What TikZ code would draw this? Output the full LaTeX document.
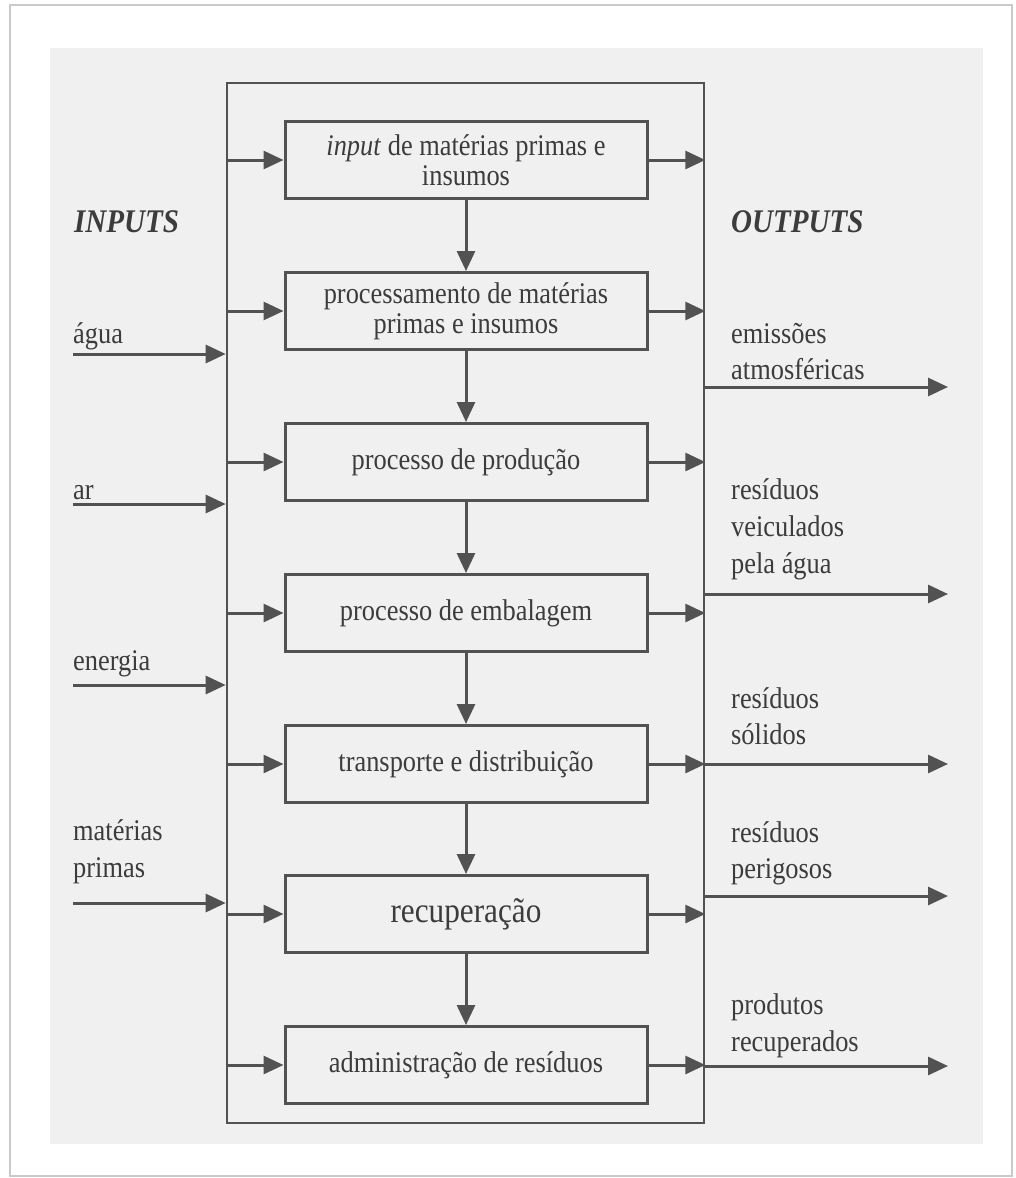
\documentclass[tikz,border=0pt]{standalone}
\usepackage{fontspec}
\setmainfont{Liberation Serif}[FakeStretch=0.88]
\usetikzlibrary{arrows.meta}
\definecolor{ink}{HTML}{3C3C3C}
\definecolor{linec}{HTML}{525252}
\definecolor{paper}{HTML}{F0F0F0}
\definecolor{framec}{HTML}{CACACA}
\begin{document}
\begin{tikzpicture}[x=1pt,y=-1pt,
  stagebox/.style={draw=linec, line width=3pt, minimum width=362pt, minimum height=77pt,
    inner sep=0pt, align=center, text=ink, font=\fontsize{30}{30}\selectfont},
  sysbox/.style={draw=linec, line width=2.6pt, minimum width=477pt, minimum height=1040pt, inner sep=0pt},
  flow/.style={draw=linec, line width=3pt, -{Triangle[length=20pt,width=18pt]}},
  lbl/.style={anchor=base west, text=ink, font=\fontsize{30}{36}\selectfont, inner sep=0pt},
  head/.style={anchor=base west, text=ink, font=\fontsize{33}{36}\selectfont\bfseries\itshape, inner sep=0pt},
]
\useasboundingbox (0,0) rectangle (1015,1178);
\fill[white] (0,0) rectangle (1015,1178);
\draw[framec, line width=2pt] (10,5) rectangle (1012,1176);
\fill[paper] (50,48) rectangle (983,1144);

% system frame
\node[sysbox] (sys) at (465.5,603) {};

% stages
\node[stagebox] (b1) at (466,160) {\textit{input} de matérias primas e\\insumos};
\node[stagebox] (b2) at (466,311) {processamento de matérias\\primas e insumos};
\node[stagebox] (b3) at (466,462) {processo de produção};
\node[stagebox] (b4) at (466,613) {processo de embalagem};
\node[stagebox] (b5) at (466,764) {transporte e distribuição};
\node[stagebox, font=\fontsize{35.5}{36}\selectfont] (b6) at (466,914) {recuperação};
\node[stagebox] (b7) at (466,1065) {administração de resíduos};

% vertical flow
\foreach \a/\b in {b1/b2,b2/b3,b3/b4,b4/b5,b5/b6,b6/b7}
  \draw[flow] (\a.south) -- (\b.north);

% small in/out arrows of each stage
\foreach \s in {b1,b2,b3,b4,b5,b6,b7}{
  \draw[flow] (sys.west |- \s.west) -- (\s.west);
  \draw[flow] (\s.east) -- (sys.east |- \s.east);
}

% headings
\node[head] (hin) at (74,232) {INPUTS};
\node[head] (hout) at (731,232) {OUTPUTS};

% inputs
\coordinate (iagua) at (73,354);
\coordinate (iar) at (73,504);
\coordinate (ienergia) at (73,685);
\coordinate (imat) at (73,903);
\foreach \c in {iagua,iar,ienergia,imat}
  \draw[flow] (\c) -- (\c -| sys.west);
\node[lbl] (lagua) at (73,343) {água};
\node[lbl] (lar) at (73,499) {ar};
\node[lbl] (lenergia) at (73,670) {energia};
\node[lbl] (lmat1) at (73,840) {matérias};
\node[lbl] (lmat2) at (73,877) {primas};

% outputs
\coordinate (oemis) at (948,387);
\coordinate (oagua) at (948,594);
\coordinate (osol) at (948,764);
\coordinate (operig) at (948,896);
\coordinate (oprod) at (948,1066);
\foreach \c in {oemis,oagua,osol,operig,oprod}
  \draw[flow] (\c -| sys.east) -- (\c);
\node[lbl] (r1a) at (731,343) {emissões};
\node[lbl] (r1b) at (731,379) {atmosféricas};
\node[lbl] (r2a) at (731,499) {resíduos};
\node[lbl] (r2b) at (731,536) {veiculados};
\node[lbl] (r2c) at (731,573) {pela água};
\node[lbl] (r3a) at (731,708) {resíduos};
\node[lbl] (r3b) at (731,744) {sólidos};
\node[lbl] (r4a) at (731,842) {resíduos};
\node[lbl] (r4b) at (731,878) {perigosos};
\node[lbl] (r5a) at (731,1014) {produtos};
\node[lbl] (r5b) at (731,1051) {recuperados};
\end{tikzpicture}
\end{document}
